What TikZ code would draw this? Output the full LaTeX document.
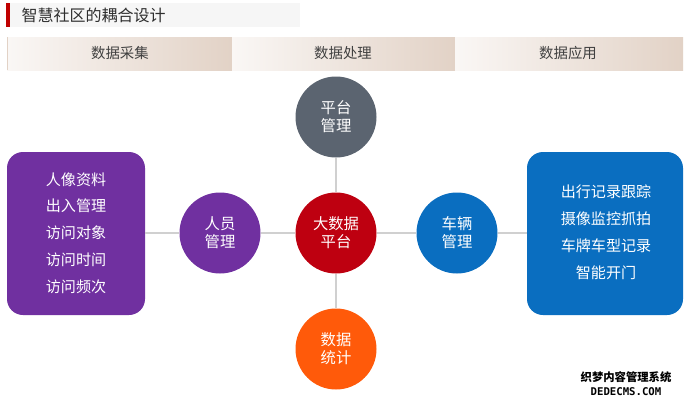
\documentclass[tikz,border=0pt]{standalone}
\usepackage{fontspec}
\setmainfont{Noto Sans CJK SC}
\newfontfamily\wmfont{DejaVu Sans Mono}
\definecolor{cpurple}{HTML}{7030A0}
\definecolor{cblue}{HTML}{0A6EC0}
\definecolor{cred}{HTML}{BE0010}
\definecolor{cgray}{HTML}{5B6470}
\definecolor{corange}{HTML}{FF5A0A}
\definecolor{hdlight}{HTML}{FAF7F5}
\definecolor{hddark}{HTML}{E2D2C6}
\definecolor{linec}{HTML}{D0D0D0}
\definecolor{titlebg}{HTML}{F6F6F6}
\definecolor{titlered}{HTML}{C00000}
\tikzset{
  hub/.style={circle, minimum size=81*0.75pt, inner sep=0pt, text=white, font=\fontsize{11.5pt}{13.5pt}\selectfont, align=center},
  hdcell/.style={inner sep=0pt, left color=hdlight, right color=hddark},
  hdtext/.style={text=black!75, font=\fontsize{10.8pt}{12pt}\selectfont},
  conn/.style={draw=linec, line width=0.8pt},
  boxtext/.style={text=white, font=\fontsize{11.3pt}{13pt}\selectfont}
}
\begin{document}
\begin{tikzpicture}[x=0.75pt,y=-0.75pt]
\useasboundingbox (0,0) rectangle (687,405);
\fill[white] (0,0) rectangle (687,405);
% title
\fill[titlebg] (6,3) rectangle (300,27);
\fill[titlered] (6,3) rectangle (9.5,27);
\node[anchor=west, text=black!82, font=\fontsize{12pt}{13pt}\selectfont] (title) at (17,15) {智慧社区的耦合设计};
% header
\shade[hdcell] (7,37) rectangle (232,70);
\shade[hdcell] (232,37) rectangle (455,70);
\shade[hdcell] (455,37) rectangle (683,70);
\draw[hddark, line width=0.6pt] (7,37) -- (7,70);
\node[hdtext] (h1) at (120,53) {数据采集};
\node[hdtext] (h2) at (343,53) {数据处理};
\node[hdtext] (h3) at (568,53) {数据应用};
% boxes
\fill[cpurple, rounded corners=12pt] (7,152) rectangle (145,315);
\coordinate (pbox) at (145,233);
\fill[cblue, rounded corners=12pt] (527,152) rectangle (683,315);
\coordinate (bbox) at (527,233);
% circles
\node[hub, fill=cgray] (pm) at (336,117) {平台\\管理};
\node[hub, fill=cred] (bd) at (336,233) {大数据\\平台};
\node[hub, fill=corange] (ds) at (336,349) {数据\\统计};
\node[hub, fill=cpurple] (ry) at (220,233) {人员\\管理};
\node[hub, fill=cblue] (cl) at (457,233) {车辆\\管理};
% connectors
\draw[conn] (pbox) -- (ry.west);
\draw[conn] (ry.east) -- (bd.west);
\draw[conn] (bd.east) -- (cl.west);
\draw[conn] (cl.east) -- (bbox);
\draw[conn] (pm.south) -- (bd.north);
\draw[conn] (bd.south) -- (ds.north);
% box texts
\node[boxtext] (p1) at (76,180) {人像资料};
\node[boxtext] (p2) at (76,206) {出入管理};
\node[boxtext] (p3) at (76,233) {访问对象};
\node[boxtext] (p4) at (76,260) {访问时间};
\node[boxtext] (p5) at (76,287) {访问频次};
\node[boxtext] (b1) at (606,192) {出行记录跟踪};
\node[boxtext] (b2) at (606,219) {摄像监控抓拍};
\node[boxtext] (b3) at (606,246) {车牌车型记录};
\node[boxtext] (b4) at (606,273) {智能开门};
% watermark
\node[font=\fontsize{8.5pt}{9pt}\selectfont\bfseries, text=black] (wm1) at (626,377) {织梦内容管理系统};
\node[font=\wmfont\fontsize{8pt}{8pt}\selectfont\bfseries, text=black] (wm2) at (626,392) {DEDECMS.COM};
\end{tikzpicture}
\end{document}
